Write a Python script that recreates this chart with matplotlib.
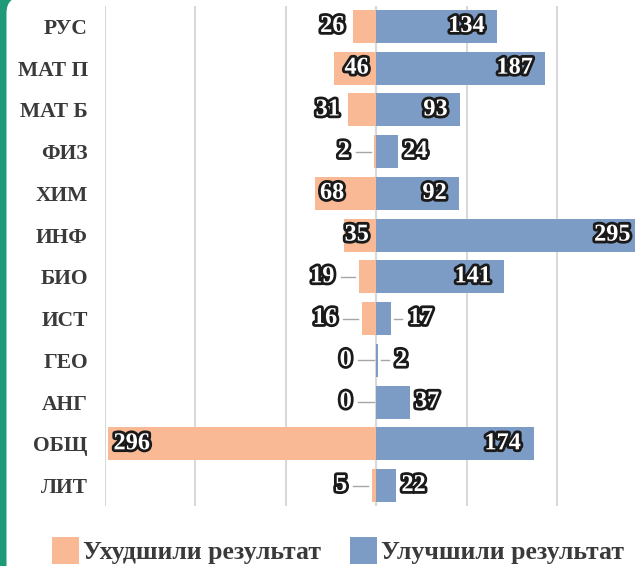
import matplotlib
matplotlib.use('Agg')
import matplotlib.pyplot as plt
import matplotlib.patheffects as pe
from matplotlib.patches import Rectangle, FancyBboxPatch, Patch
import numpy as np

categories = ['РУС', 'МАТ П', 'МАТ Б', 'ФИЗ', 'ХИМ', 'ИНФ', 'БИО', 'ИСТ', 'ГЕО', 'АНГ', 'ОБЩ', 'ЛИТ']
worse = [26, 46, 31, 2, 68, 35, 19, 16, 0, 0, 296, 5]
better = [134, 187, 93, 24, 92, 295, 141, 17, 2, 37, 174, 22]
series_names = ['Ухудшили результат', 'Улучшили результат']

ORANGE = '#FAB995'
BLUE = '#7C9BC5'
TEXT = '#3a3a3a'
GREEN = '#1E9A78'
SERIF = ['Liberation Serif', 'DejaVu Serif']

fig = plt.figure(figsize=(6.35, 5.66), dpi=100, facecolor='white')

# green frame at the left edge
fig.patches.append(Rectangle((0, 0), 0.3, 5.66, transform=fig.dpi_scale_trans,
                             facecolor=GREEN, edgecolor='none', zorder=-3))
fig.patches.append(FancyBboxPatch((0.065, -1.0), 8.0, 5.66 + 1.03,
                                  boxstyle='round,pad=0,rounding_size=0.16',
                                  transform=fig.dpi_scale_trans,
                                  facecolor='white', edgecolor='none', zorder=-2))

ax = fig.add_axes([104.5 / 635, 1 - 506.4 / 566, 1 - 104.5 / 635, (506.4 - 5.6) / 566])
ax.set_facecolor('none')

y = np.arange(len(categories))
ax.barh(y, [-v for v in worse], height=0.79, color=ORANGE, zorder=2, label=series_names[0])
ax.barh(y, better, height=0.79, color=BLUE, zorder=2, label=series_names[1])

ax.set_xlim(-300, 286)
ax.set_ylim(len(categories) - 0.5, -0.5)
ax.set_xticks([-300, -200, -100, 0, 100, 200])
ax.xaxis.grid(True, color='#d9d9d9', lw=1.5, zorder=0)
ax.set_axisbelow(True)
ax.tick_params(axis='x', length=0, labelbottom=False)
ax.tick_params(axis='y', length=0, pad=12)
ax.set_yticks(y)
ax.set_yticklabels(categories, fontfamily=SERIF, fontweight='bold', fontsize=15.5, color=TEXT)
for s in ax.spines.values():
    s.set_visible(False)

stroke = [pe.withStroke(linewidth=4, foreground='#1a1a1a')]
lab_kw = dict(fontfamily=SERIF, fontweight='bold', fontsize=17.5, color='white',
              va='center', path_effects=stroke, zorder=5)
lead_kw = dict(color='#a6a6a6', lw=1.0, zorder=3)

for i, v in enumerate(worse):
    if v >= 60:
        ax.text(-v + 6, i, str(v), ha='left', **lab_kw)
    elif v >= 35:
        ax.text(-8, i, str(v), ha='right', **lab_kw)
    elif v >= 20:
        ax.text(-v - 9, i, str(v), ha='right', **lab_kw)
    else:
        ax.text(-v - 27, i, str(v), ha='right', **lab_kw)
        ax.plot([-v - 20, -v - 4 if v > 0 else -2], [i, i], **lead_kw)

for i, v in enumerate(better):
    if v >= 50:
        ax.text(v - 14, i, str(v), ha='right', **lab_kw)
    elif v >= 20:
        ax.text(v + 6, i, str(v), ha='left', **lab_kw)
    else:
        ax.text(v + 19, i, str(v), ha='left', **lab_kw)
        ax.plot([v + 3, v + 12], [i, i], **lead_kw)

handles = [Patch(facecolor=ORANGE), Patch(facecolor=BLUE)]
fig.legend(handles, series_names, loc='center', bbox_to_anchor=(0.532, 0.027),
           ncol=2, frameon=False, prop=dict(family=SERIF, weight='bold', size=18.5),
           labelcolor=TEXT, handlelength=1.05, handleheight=1.2,
           columnspacing=1.15, handletextpad=0.15, borderaxespad=0)

fig.savefig('out.png', dpi=100, facecolor='white')
